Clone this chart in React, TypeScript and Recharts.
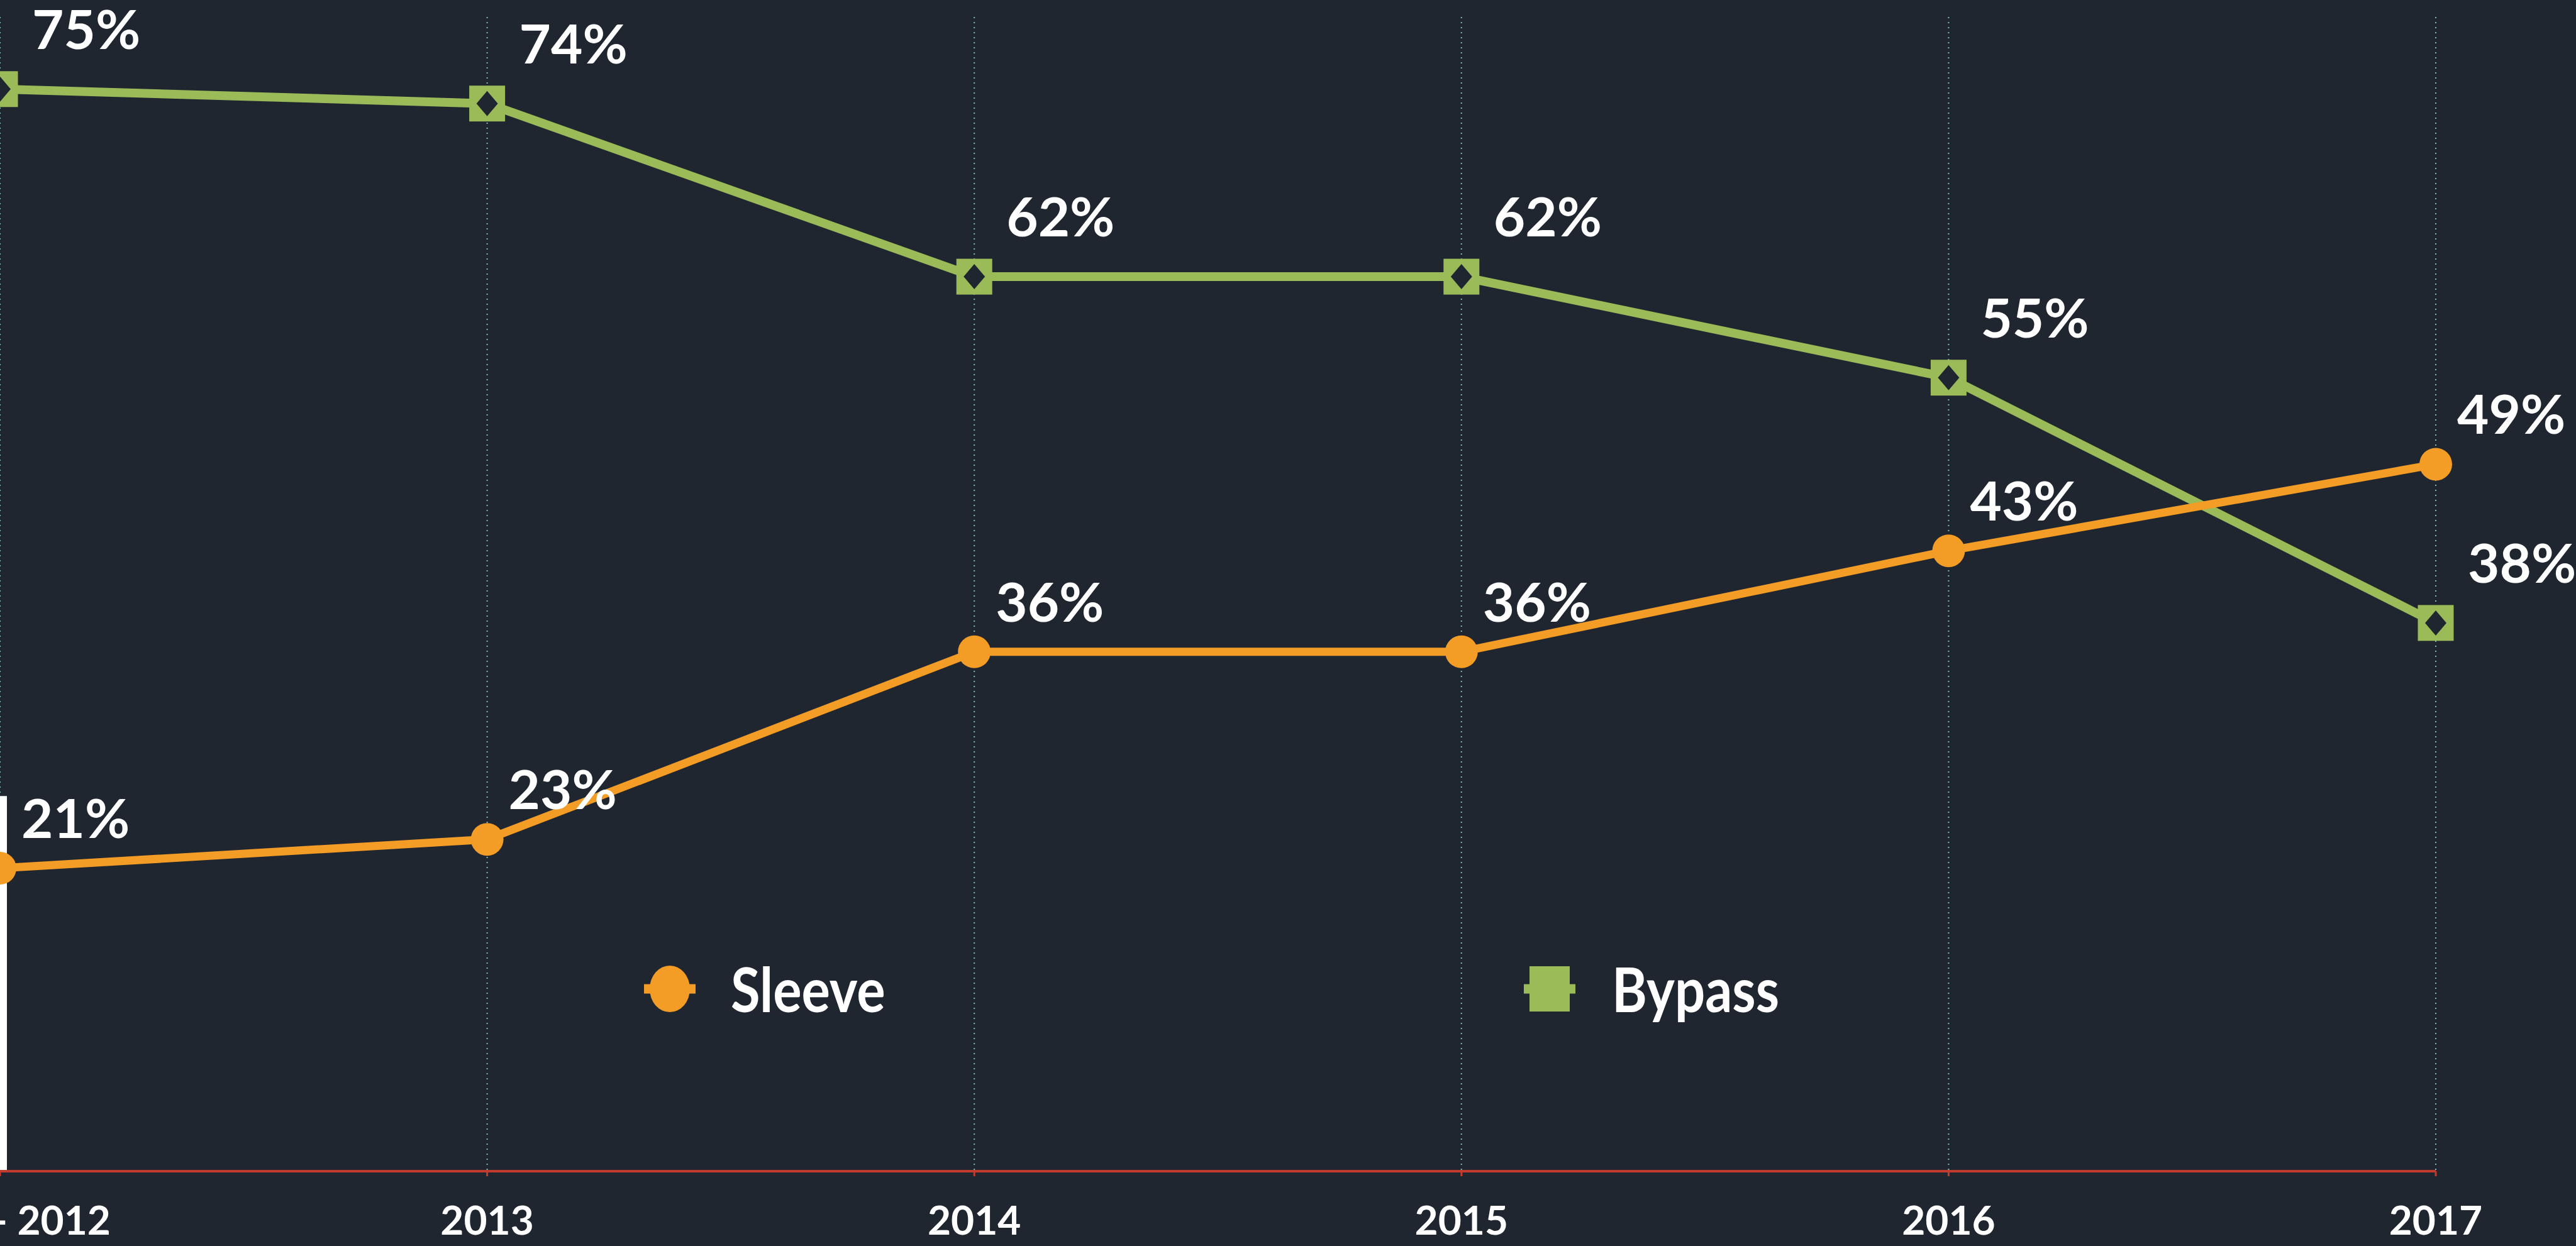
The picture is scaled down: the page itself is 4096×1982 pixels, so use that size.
import { CartesianGrid, LabelList, Line, LineChart, ReferenceLine, XAxis, YAxis } from "recharts";

const YEARS = ["2011 - 2012", "2013", "2014", "2015", "2016", "2017"];
const SLEEVE = [21, 23, 36, 36, 43, 49];
const BYPASS = [75, 74, 62, 62, 55, 38];
const LEFT_BAR = 26;

const W = 4096;
const H = 1982;
const BG = "#1f2630";
const ORANGE = "#f39c26";
const GREEN = "#9bbb59";
const AXIS_RED = "#c23b2e";
const GRID = "#76c0b9";
const FONT = "Lato, 'Open Sans', sans-serif";

const data = YEARS.map((year, i) => ({ year, sleeve: SLEEVE[i], bypass: BYPASS[i] }));

function YearTick(props: any) {
  const { x, y, payload } = props;
  return (
    <text
      x={x}
      y={y + 93}
      textAnchor="middle"
      fill="#ffffff"
      fontFamily={FONT}
      fontWeight={700}
      fontSize={64}
    >
      {payload.value}
    </text>
  );
}

function makeLabel(dx: number, dy: number) {
  return (props: any) => (
    <text
      x={props.x + dx}
      y={props.y - dy}
      fill="#ffffff"
      fontFamily={FONT}
      fontWeight={700}
      fontSize={87}
    >
      {props.value}%
    </text>
  );
}

function BypassDot(props: any) {
  const { cx, cy, index } = props;
  if (cx == null || cy == null) return null;
  const s = 57;
  return (
    <g key={`bp-${index}`}>
      <rect x={cx - s / 2} y={cy - s / 2} width={s} height={s} fill={GREEN} />
      <path
        d={`M${cx},${cy - 20} L${cx + 17},${cy} L${cx},${cy + 20} L${cx - 17},${cy} Z`}
        fill={BG}
      />
    </g>
  );
}

// legend is drawn a bit stretched vertically, like in the source picture
const LEGEND = [
  { name: "Sleeve", color: ORANGE, shape: "circle", cx: 1065, tx: 1162 },
  { name: "Bypass", color: GREEN, shape: "square", cx: 2464, tx: 2563 },
];

function LegendLayer() {
  const cy = 1573;
  return (
    <svg
      width={W}
      height={H}
      style={{ position: "absolute", left: 0, top: 0, pointerEvents: "none" }}
    >
      {LEGEND.map((item) => (
        <g key={item.name}>
          <rect x={item.cx - 41} y={cy - 7.5} width={82} height={15} fill={item.color} />
          {item.shape === "circle" ? (
            <ellipse cx={item.cx} cy={cy} rx={32} ry={37} fill={item.color} />
          ) : (
            <rect x={item.cx - 32} y={cy - 36} width={64} height={72} fill={item.color} />
          )}
          <text
            transform={`translate(${item.tx},${cy + 37}) scale(1,1.14)`}
            fill="#ffffff"
            fontFamily={FONT}
            fontWeight={700}
            fontSize={85}
          >
            {item.name}
          </text>
        </g>
      ))}
    </svg>
  );
}

export default function App() {
  return (
    <div
      style={{
        position: "fixed",
        left: 0,
        top: 0,
        width: W,
        height: H,
        background: BG,
        overflow: "hidden",
      }}
    >
      <LineChart width={W} height={H} data={data} margin={{ top: 27, right: 223, bottom: 0, left: 0 }}>
        <CartesianGrid vertical horizontal={false} stroke={GRID} strokeWidth={2} strokeDasharray="2 6" />
        <XAxis
          dataKey="year"
          interval={0}
          height={119}
          padding={{ left: 0, right: 0 }}
          axisLine={{ stroke: AXIS_RED, strokeWidth: 4 }}
          tickLine={{ stroke: AXIS_RED, strokeWidth: 3 }}
          tickSize={8}
          tickMargin={0}
          tick={<YearTick />}
        />
        <YAxis hide width={0} domain={[0, 80]} />
        <ReferenceLine
          segment={[
            { x: YEARS[0], y: 0 },
            { x: YEARS[0], y: LEFT_BAR },
          ]}
          stroke="#ffffff"
          strokeWidth={22}
        />
        <Line dataKey="bypass" stroke="none" dot={false} activeDot={false} isAnimationActive={false} legendType="none">
          <LabelList dataKey="bypass" content={makeLabel(51, 64)} />
        </Line>
        <Line dataKey="sleeve" stroke="none" dot={false} activeDot={false} isAnimationActive={false} legendType="none">
          <LabelList dataKey="sleeve" content={makeLabel(34, 48)} />
        </Line>
        <Line
          dataKey="bypass"
          stroke="none"
          dot={(p: any) => <BypassDot {...p} key={`bd-${p.index}`} />}
          activeDot={false}
          isAnimationActive={false}
          legendType="none"
        />
        <Line
          dataKey="bypass"
          name="Bypass"
          stroke={GREEN}
          strokeWidth={14}
          dot={false}
          activeDot={false}
          isAnimationActive={false}
        />
        <Line
          dataKey="sleeve"
          name="Sleeve"
          stroke={ORANGE}
          strokeWidth={13}
          dot={{ r: 26, fill: ORANGE, stroke: "none", strokeWidth: 0 }}
          activeDot={false}
          isAnimationActive={false}
        />
      </LineChart>
      <LegendLayer />
    </div>
  );
}
